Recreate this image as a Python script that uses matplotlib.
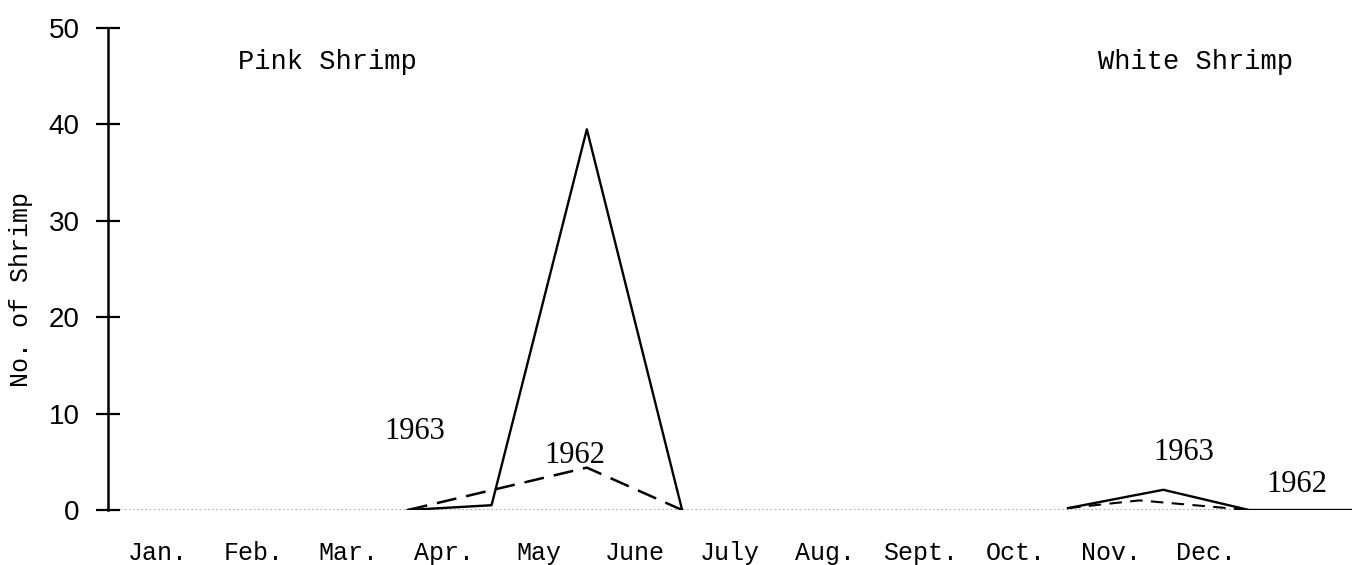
import matplotlib
matplotlib.use("Agg")
import matplotlib.pyplot as plt

# months on the x axis (Jan = 0)
months = ['Jan.', 'Feb.', 'Mar.', 'Apr.', 'May', 'June', 'July',
          'Aug.', 'Sept.', 'Oct.', 'Nov.', 'Dec.']

# pink shrimp
pink_x_1963 = [2.62, 3.5, 4.5, 5.5]
pink_1963 = [0, 0.5, 39.5, 0]
pink_x_1962 = [2.62, 4.5, 5.5]
pink_1962 = [0, 4.4, 0]

# white shrimp
white_x_1963 = [9.55, 10.55, 11.45, 12.6]
white_1963 = [0.2, 2.1, 0, 0]
white_x_1962 = [9.55, 10.3, 11.45]
white_1962 = [0.2, 1.0, 0]

yticks = [0, 10, 20, 30, 40, 50]

mono = 'Liberation Mono'

fig = plt.figure(figsize=(13.52, 5.65), dpi=100)
ax = fig.add_axes([0.0799, 0.0973, 0.9201, 0.853])

# faint dotted baseline
ax.axhline(0, color='#9a9a9a', lw=1.2, ls=(0, (1, 1.5)), zorder=1)

ax.plot(pink_x_1963, pink_1963, color='black', lw=1.7, zorder=3)
ax.plot(pink_x_1962, pink_1962, color='black', lw=1.8, dashes=(8, 4), zorder=3)
ax.plot(white_x_1963, white_1963, color='black', lw=1.7, zorder=3)
ax.plot(white_x_1962, white_1962, color='black', lw=1.5, dashes=(6, 4), zorder=3)

ax.set_xlim(-0.525, 12.53)
ax.set_ylim(0, 50)

for s in ['top', 'right', 'bottom']:
    ax.spines[s].set_visible(False)
ax.spines['left'].set_linewidth(1.8)
ax.spines['left'].set_bounds(0, 50)

ax.set_yticks(yticks)
ax.set_yticklabels([str(v) for v in yticks], fontfamily='Liberation Sans', fontsize=20)
ax.tick_params(axis='y', direction='inout', length=17, width=1.6, pad=12)

ax.set_xticks(range(len(months)))
ax.set_xticklabels(months, fontfamily=mono, fontsize=18)
ax.tick_params(axis='x', length=0, pad=22)

fig.text(21 / 1352, 0.487, 'No. of Shrimp', rotation=90, ha='center', va='center',
         fontfamily=mono, fontsize=18)

ax.text(0.84, 46.5, 'Pink Shrimp', fontfamily=mono, fontsize=19.5, va='center', ha='left')
ax.text(11.91, 46.5, 'White Shrimp', fontfamily=mono, fontsize=19.5, va='center', ha='right')

ax.text(2.69, 8.1, '1963', fontfamily='Liberation Serif', fontsize=22, ha='center', va='center')
ax.text(4.37, 5.7, '1962', fontfamily='Liberation Serif', fontsize=22, ha='center', va='center')
ax.text(10.77, 6.0, '1963', fontfamily='Liberation Serif', fontsize=22, ha='center', va='center')
ax.text(11.95, 2.6, '1962', fontfamily='Liberation Serif', fontsize=22, ha='center', va='center')

fig.savefig('out.png', dpi=100)
